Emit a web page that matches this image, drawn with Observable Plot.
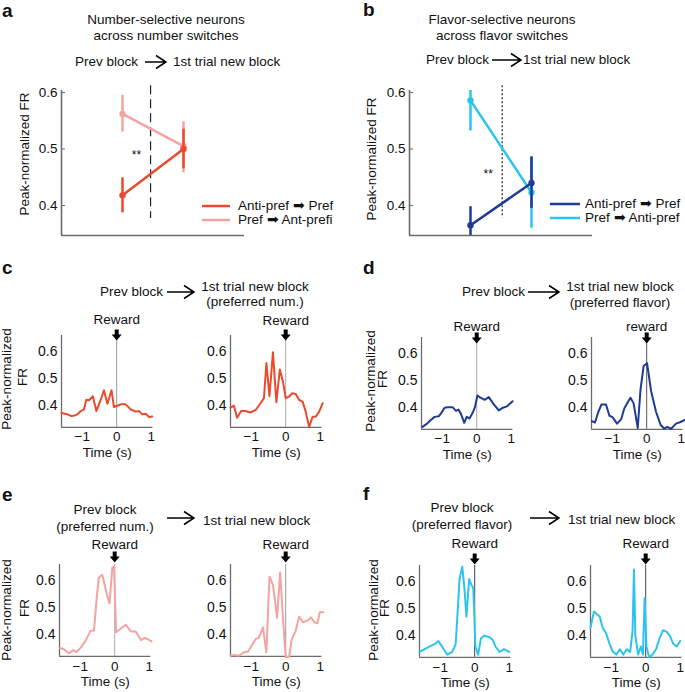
<!DOCTYPE html>
<html><head><meta charset="utf-8">
<script src="https://cdn.jsdelivr.net/npm/d3@7"></script>
<script src="https://cdn.jsdelivr.net/npm/@observablehq/plot@0.6"></script>
<style>
body{margin:0;background:#fff;}
#fig{position:relative;width:685px;height:692px;overflow:hidden;font-family:"Liberation Sans",Arial,Helvetica,sans-serif;color:#111;background:#fff;}
.t,.l,.p,.r{position:absolute;white-space:nowrap;line-height:1;font-size:13.5px;}
.t{transform:translate(-50%,-50%);}
.l{transform:translate(0,-50%);}
.p{transform:translate(0,-50%);font-weight:bold;font-size:19px;}
.r{transform:translate(-50%,-50%) rotate(-90deg);font-size:13.5px;}
svg.deco{position:absolute;overflow:visible;}
</style></head><body><div id="fig"></div>
<script>
// ---------- data ----------
const stage = [0, 1]; // 0 = Prev block, 1 = 1st trial new block
const aAntiMean = [0.418, 0.500], aAntiLo = [0.387, 0.465], aAntiHi = [0.449, 0.535];
const aPrefMean = [0.562, 0.505], aPrefLo = [0.530, 0.458], aPrefHi = [0.595, 0.548];
const bAntiMean = [0.365, 0.440], bAntiLo = [0.330, 0.395], bAntiHi = [0.398, 0.486];
const bPrefMean = [0.586, 0.423], bPrefLo = [0.532, 0.360], bPrefHi = [0.640, 0.486];
const aLegend = ["Anti-pref \u27A1 Pref", "Pref \u27A1 Ant-prefi"];
const bLegend = ["Anti-pref \u27A1 Pref", "Pref \u27A1 Anti-pref"];
const yTicksBig = [0.4, 0.5, 0.6];
const yTicksSmall = [0.4, 0.5, 0.6];
const xTicksSmall = [-1, 0, 1];

const cPrev = [[-1.6,0.373],[-1.5,0.370],[-1.43,0.368],[-1.31,0.362],[-1.22,0.364],[-1.14,0.368],[-1.04,0.380],[-0.95,0.386],[-0.88,0.422],[-0.80,0.420],[-0.69,0.435],[-0.59,0.380],[-0.46,0.423],[-0.37,0.457],[-0.27,0.407],[-0.15,0.457],[-0.08,0.395],[0.0,0.399],[0.12,0.405],[0.26,0.405],[0.41,0.386],[0.55,0.378],[0.65,0.380],[0.74,0.368],[0.84,0.370],[0.94,0.358],[1.03,0.360]];
const cNew = [[-1.6,0.393],[-1.5,0.400],[-1.41,0.355],[-1.29,0.380],[-1.17,0.380],[-1.02,0.375],[-0.87,0.384],[-0.73,0.409],[-0.63,0.428],[-0.56,0.558],[-0.47,0.435],[-0.37,0.598],[-0.27,0.413],[-0.17,0.534],[-0.08,0.490],[0.0,0.428],[0.10,0.434],[0.19,0.446],[0.29,0.443],[0.39,0.421],[0.49,0.415],[0.58,0.378],[0.68,0.321],[0.78,0.359],[0.87,0.359],[0.97,0.378],[1.07,0.409]];
const dPrev = [[-1.57,0.329],[-1.46,0.339],[-1.33,0.354],[-1.22,0.366],[-1.10,0.368],[-1.03,0.380],[-0.93,0.400],[-0.84,0.402],[-0.70,0.402],[-0.60,0.388],[-0.53,0.393],[-0.46,0.378],[-0.36,0.344],[-0.29,0.366],[-0.21,0.360],[-0.12,0.380],[-0.05,0.402],[0.02,0.445],[0.11,0.437],[0.23,0.429],[0.35,0.439],[0.48,0.415],[0.64,0.390],[0.76,0.400],[0.88,0.405],[1.04,0.424]];
const dNew = [[-1.59,0.350],[-1.50,0.345],[-1.40,0.385],[-1.31,0.412],[-1.18,0.412],[-1.08,0.370],[-0.99,0.365],[-0.86,0.341],[-0.74,0.357],[-0.65,0.397],[-0.55,0.420],[-0.47,0.437],[-0.38,0.416],[-0.26,0.325],[-0.18,0.466],[-0.09,0.554],[0.01,0.565],[0.13,0.460],[0.27,0.385],[0.40,0.337],[0.51,0.322],[0.59,0.329],[0.71,0.322],[0.85,0.341],[0.98,0.347],[1.09,0.354]];
const ePrev = [[-1.59,0.351],[-1.48,0.347],[-1.33,0.331],[-1.20,0.343],[-1.11,0.335],[-0.99,0.351],[-0.84,0.378],[-0.70,0.415],[-0.60,0.415],[-0.52,0.538],[-0.46,0.612],[-0.36,0.622],[-0.23,0.551],[-0.15,0.516],[-0.07,0.649],[-0.02,0.652],[0.04,0.409],[0.16,0.421],[0.32,0.437],[0.47,0.412],[0.61,0.412],[0.76,0.380],[0.87,0.388],[0.95,0.384],[1.07,0.375]];
const eNew = [[-1.6,0.322],[-1.5,0.325],[-1.36,0.322],[-1.21,0.335],[-1.09,0.338],[-0.99,0.359],[-0.87,0.384],[-0.78,0.388],[-0.66,0.427],[-0.56,0.335],[-0.47,0.615],[-0.37,0.585],[-0.25,0.462],[-0.16,0.630],[-0.08,0.464],[0.0,0.316],[0.10,0.318],[0.17,0.380],[0.29,0.415],[0.39,0.467],[0.50,0.446],[0.63,0.452],[0.73,0.464],[0.83,0.446],[0.92,0.442],[0.99,0.483],[1.09,0.483]];
const fPrev = [[-1.6,0.340],[-1.45,0.350],[-1.30,0.360],[-1.15,0.370],[-1.05,0.380],[-0.95,0.360],[-0.80,0.330],[-0.65,0.340],[-0.55,0.370],[-0.48,0.520],[-0.44,0.610],[-0.36,0.655],[-0.30,0.580],[-0.24,0.470],[-0.16,0.610],[-0.10,0.590],[-0.04,0.575],[0.02,0.360],[0.10,0.330],[0.18,0.390],[0.27,0.400],[0.42,0.395],[0.52,0.385],[0.60,0.360],[0.72,0.340],[0.85,0.350],[1.0,0.340]];
const fNew = [[-1.6,0.430],[-1.5,0.490],[-1.42,0.480],[-1.33,0.470],[-1.25,0.430],[-1.15,0.410],[-1.05,0.370],[-0.95,0.340],[-0.85,0.330],[-0.75,0.350],[-0.65,0.330],[-0.55,0.350],[-0.45,0.340],[-0.38,0.420],[-0.34,0.645],[-0.30,0.400],[-0.22,0.330],[-0.14,0.360],[-0.08,0.330],[-0.03,0.540],[0.02,0.360],[0.10,0.320],[0.20,0.330],[0.30,0.350],[0.40,0.390],[0.50,0.420],[0.60,0.415],[0.70,0.400],[0.80,0.370],[0.90,0.360],[1.0,0.380]];

// ---------- style ----------
const FONT = '"Liberation Sans", Arial, Helvetica, sans-serif';
const RED = "#ea4a2e", PINK = "#f4a3a0", NAVY = "#1e3b96", CYAN = "#2ac4ee";
const AXIS = "#6b6b6b";
const fig = document.getElementById("fig");
const NS = "http://www.w3.org/2000/svg";
const fmtInt = d => (d < 0 ? "\u2212" : "") + Math.abs(d);

// filled block arrow shape for Plot.vector (drawn from 0 toward -l)
const blockArrow = {
  draw(context, l) {
    const head = 6, hw = 5, sw = 2;
    context.moveTo(-sw, 0); context.lineTo(sw, 0); context.lineTo(sw, -(l - head));
    context.lineTo(hw, -(l - head)); context.lineTo(0, -l); context.lineTo(-hw, -(l - head));
    context.lineTo(-sw, -(l - head)); context.closePath();
  }
};

function txt(cls, s, x, y, extra) {
  const d = document.createElement("div");
  d.className = cls; d.textContent = s;
  d.style.left = x + "px"; d.style.top = y + "px";
  if (extra) Object.assign(d.style, extra);
  fig.appendChild(d);
}
function arrow(x1, x2, y) {
  const w = x2 - x1;
  const s = document.createElementNS(NS, "svg");
  s.setAttribute("class", "deco");
  s.setAttribute("width", w + 2); s.setAttribute("height", 16);
  s.style.left = x1 + "px"; s.style.top = (y - 8) + "px";
  const p = document.createElementNS(NS, "path");
  p.setAttribute("d", `M0,8H${w}M${w - 10},1.5L${w},8L${w - 10},14.5`);
  p.setAttribute("stroke", "#000"); p.setAttribute("stroke-width", "1.5"); p.setAttribute("fill", "none");
  s.appendChild(p); fig.appendChild(s);
}
function legLine(x1, x2, y, color) {
  const s = document.createElementNS(NS, "svg");
  s.setAttribute("class", "deco");
  s.setAttribute("width", x2 - x1); s.setAttribute("height", 4);
  s.style.left = x1 + "px"; s.style.top = (y - 2) + "px";
  const l = document.createElementNS(NS, "line");
  l.setAttribute("x1", 0); l.setAttribute("x2", x2 - x1); l.setAttribute("y1", 2); l.setAttribute("y2", 2);
  l.setAttribute("stroke", color); l.setAttribute("stroke-width", 2.5);
  s.appendChild(l); fig.appendChild(s);
}
function place(svg, left, top) {
  svg.style.position = "absolute"; svg.style.left = left + "px"; svg.style.top = top + "px";
  svg.style.maxWidth = "none";
  fig.appendChild(svg);
}
function rows(mean, lo, hi) { return stage.map((s, i) => ({stage: s, mean: mean[i], lo: lo[i], hi: hi[i]})); }

function bigPlot({frameLeft, frameTop, series, switchRule, dash, stars}) {
  const xDom = [-1, 2], yDom = [0.347, 0.6035];
  const mL = 61, mT = 90;
  const marks = [
    Plot.ruleX([xDom[0]], {stroke: AXIS, strokeWidth: 1.6}),
    Plot.ruleY([yDom[0]], {stroke: AXIS, strokeWidth: 1.6}),
    Plot.axisY({ticks: yTicksBig, tickFormat: d => d.toFixed(1), tickSize: -4, tickPadding: 8, stroke: AXIS, label: null, fontSize: 13.5}),
    Plot.ruleX([switchRule], {x: "x", y1: "y1", y2: "y2", stroke: "#222", strokeWidth: 1.2, strokeDasharray: dash}),
    Plot.text([stars], {x: "x", y: "y", text: "s", fontSize: 12, fill: "#111"})
  ];
  for (const s of series) {
    marks.push(
      Plot.ruleX(s.data, {x: "stage", y1: "lo", y2: "hi", stroke: s.color, strokeWidth: 2.5, clip: true}),
      Plot.line(s.data, {x: "stage", y: "mean", stroke: s.color, strokeWidth: 2.5}),
      Plot.dot(s.data, {x: "stage", y: "mean", fill: s.color, r: 3.2})
    );
  }
  const p = Plot.plot({
    width: 340, height: 240, marginLeft: mL, marginRight: 340 - 244, marginTop: mT, marginBottom: 5,
    x: {domain: xDom, axis: null}, y: {domain: yDom},
    style: {fontFamily: FONT, fontSize: "13.5px", color: "#111", background: "none", overflow: "visible"},
    marks
  });
  place(p, frameLeft - mL, frameTop - mT);
}

function small({data, color, frameLeft, frameTop, label = "Reward", rewardDy, tailDy, zeroColor, xPad = 4}) {
  const xDom = [-1.6, 1.05], yDom = [0.32, 0.66];
  const mL = 40, mR = 20, mT = 40, mB = 40;
  const w = 34.5 * (xDom[1] - xDom[0]), h = 270 * (yDom[1] - yDom[0]);
  const p = Plot.plot({
    width: mL + w + mR, height: mT + h + mB,
    marginLeft: mL, marginRight: mR, marginTop: mT, marginBottom: mB,
    x: {domain: xDom}, y: {domain: yDom},
    style: {fontFamily: FONT, fontSize: "13.5px", color: "#111", background: "none", overflow: "visible"},
    marks: [
      Plot.ruleX([0], {stroke: zeroColor, strokeWidth: 1}),
      Plot.ruleX([xDom[0]], {stroke: AXIS, strokeWidth: 1.3}),
      Plot.ruleY([yDom[0]], {stroke: AXIS, strokeWidth: 1.3}),
      Plot.axisY({ticks: yTicksSmall, tickFormat: d => d.toFixed(1), tickSize: 0, tickPadding: 4, label: null, fontSize: 14}),
      Plot.axisX({ticks: xTicksSmall, tickFormat: fmtInt, tickSize: 0, tickPadding: xPad, label: null, fontSize: 13.5}),
      Plot.line(data, {x: d => d[0], y: d => d[1], stroke: color, strokeWidth: 2}),
      Plot.text([{t: 0, s: label}], {x: "t", text: "s", frameAnchor: "top", dy: rewardDy - 4, fontSize: 13.5}),
      Plot.vector([{t: 0}], {x: "t", frameAnchor: "top", dy: tailDy, length: 11, rotate: 180, anchor: "start", shape: blockArrow, fill: "#000", stroke: "none"}),
      Plot.text(["Time (s)"], {frameAnchor: "bottom", dy: 30, fontSize: 13.5})
    ]
  });
  place(p, frameLeft - mL, frameTop - mT);
}

// ---------- panel a ----------
bigPlot({frameLeft: 61, frameTop: 90,
  series: [{data: rows(aPrefMean, aPrefLo, aPrefHi), color: PINK}, {data: rows(aAntiMean, aAntiLo, aAntiHi), color: RED}],
  switchRule: {x: 0.46, y1: 0.612, y2: 0.377}, dash: "9,5", stars: {x: 0.23, y: 0.49, s: "**"}});
txt("p", "a", 2, 10);
txt("t", "Number-selective neurons", 166, 20);
txt("t", "across number switches", 166, 36);
txt("l", "Prev block", 75, 62); arrow(145, 166, 62); txt("l", "1st trial new block", 173, 62);
txt("r", "Peak-normalized FR", 25, 154);
legLine(202, 230, 206, RED); legLine(202, 230, 220, PINK);
txt("l", aLegend[0], 238, 206); txt("l", aLegend[1], 238, 220);

// ---------- panel b ----------
bigPlot({frameLeft: 409, frameTop: 90,
  series: [{data: rows(bPrefMean, bPrefLo, bPrefHi), color: CYAN}, {data: rows(bAntiMean, bAntiLo, bAntiHi), color: NAVY}],
  switchRule: {x: 0.52, y1: 0.612, y2: 0.378}, dash: "2,2", stars: {x: 0.29, y: 0.455, s: "**"}});
txt("p", "b", 363, 9);
txt("t", "Flavor-selective neurons", 502, 20);
txt("t", "across flavor switches", 502, 36);
txt("l", "Prev block", 426, 60); arrow(492, 521, 60); txt("l", "1st trial new block", 523, 60);
txt("r", "Peak-normalized FR", 372, 159);
legLine(550, 580, 204, NAVY); legLine(550, 580, 218, CYAN);
txt("l", bLegend[0], 585, 204); txt("l", bLegend[1], 585, 218);

// ---------- panel c ----------
small({data: cPrev, color: RED, frameLeft: 61, frameTop: 335, rewardDy: -17, tailDy: -6, zeroColor: "#999"});
small({data: cNew, color: RED, frameLeft: 230, frameTop: 334.5, rewardDy: -16.5, tailDy: -6, zeroColor: "#aaa"});
txt("p", "c", 2, 267);
txt("l", "Prev block", 100, 292); arrow(167, 194, 292);
txt("t", "1st trial new block", 255, 287); txt("t", "(preferred num.)", 255, 302);
txt("r", "Peak-normalized", 7, 379); txt("r", "FR", 23, 377);

// ---------- panel d ----------
small({data: dPrev, color: NAVY, frameLeft: 421, frameTop: 336.5, rewardDy: -12.5, tailDy: -5, zeroColor: "#aaa"});
small({data: dNew, color: NAVY, frameLeft: 591, frameTop: 336.5, label: "reward", rewardDy: -12.5, tailDy: -5, zeroColor: "#555"});
txt("p", "d", 363, 267);
txt("l", "Prev block", 462, 292); arrow(528, 559, 292);
txt("t", "1st trial new block", 620, 287); txt("t", "(preferred flavor)", 620, 303);
txt("r", "Peak-normalized", 371, 381); txt("r", "FR", 383, 379);

// ---------- panel e ----------
small({data: ePrev, color: PINK, frameLeft: 59, frameTop: 564, rewardDy: -21, tailDy: -13, zeroColor: "#aaa", xPad: 5});
small({data: eNew, color: PINK, frameLeft: 230, frameTop: 564, rewardDy: -21, tailDy: -13, zeroColor: "#999", xPad: 5});
txt("p", "e", 2, 494);
txt("t", "Prev block", 105, 510); txt("t", "(preferred num.)", 105, 527);
arrow(167, 194, 518); txt("l", "1st trial new block", 203, 521);
txt("r", "Peak-normalized", 7, 610); txt("r", "FR", 25, 608);

// ---------- panel f ----------
small({data: fPrev, color: CYAN, frameLeft: 419, frameTop: 565, rewardDy: -23, tailDy: -12, zeroColor: "#444", xPad: 5});
small({data: fNew, color: CYAN, frameLeft: 590, frameTop: 565, rewardDy: -23, tailDy: -12, zeroColor: "#444", xPad: 5});
txt("p", "f", 363, 493);
txt("t", "Prev block", 462, 508); txt("t", "(preferred flavor)", 462, 525);
arrow(530, 559, 518); txt("l", "1st trial new block", 568, 520);
txt("r", "Peak-normalized", 374, 610); txt("r", "FR", 385, 608);
</script></body></html>
